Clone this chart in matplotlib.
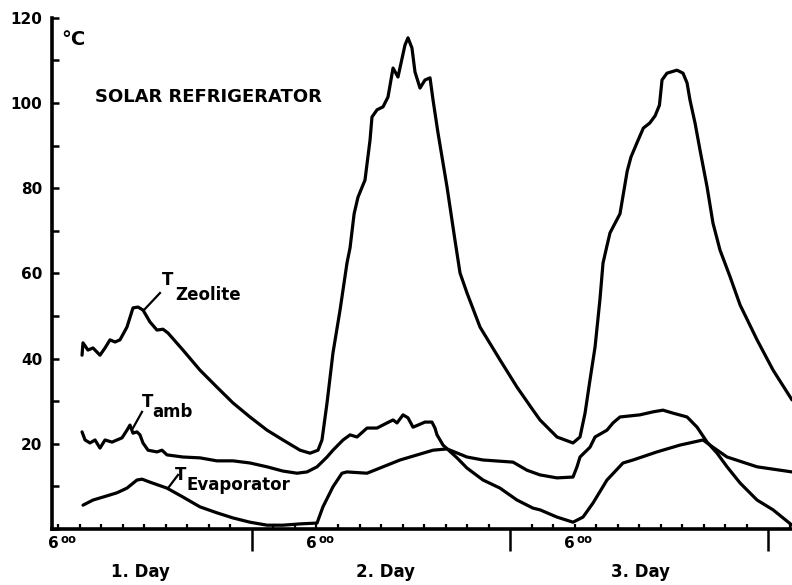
import matplotlib
matplotlib.use("Agg")
import matplotlib.pyplot as plt
from matplotlib.ticker import MultipleLocator, FixedLocator, NullFormatter

# time in hours counted from midnight before day 1, temperature in deg C
zeo_h = [8.19, 8.28, 8.74, 9.21, 9.86, 10.33, 10.79, 11.26, 11.72, 12.37, 12.93, 13.40,
         13.86, 14.51, 15.16, 15.72, 16.19, 17.58, 19.16, 20.74, 22.23, 23.81, 25.40,
         26.88, 28.47, 29.40, 30.14, 30.51, 30.98, 31.53, 32.19, 32.84, 33.12, 33.50,
         33.86, 34.51, 34.98, 35.16, 35.63, 36.19, 36.65, 37.12, 37.58, 38.23, 38.51,
         38.88, 39.16, 39.63, 40.09, 40.56, 40.84, 41.30, 42.14, 42.88, 43.35, 44.00,
         45.21, 47.07, 48.65, 50.14, 50.79, 52.37, 53.86, 54.51, 54.98, 55.44, 55.91,
         56.37, 56.65, 57.02, 57.30, 58.23, 58.90, 59.25, 59.80, 60.40, 61.00, 61.50,
         61.90, 62.14, 62.60, 63.53, 64.09, 64.47, 64.74, 65.21, 65.67, 66.33, 66.88,
         67.53, 68.47, 69.40, 70.98, 72.47, 74.23]
zeo_t = [40.8, 43.7, 42.0, 42.5, 40.8, 42.5, 44.4, 43.9, 44.4, 47.4, 51.9, 52.1,
         51.4, 48.6, 46.7, 46.9, 46.0, 42.0, 37.3, 33.3, 29.6, 26.3, 23.2,
         20.9, 18.5, 17.8, 18.5, 20.9, 29.6, 41.3, 51.4, 62.5, 66.0, 74.0,
         77.9, 81.9, 91.3, 96.7, 98.4, 99.1, 101.4, 108.2, 106.1, 113.6, 115.3,
         112.9, 107.3, 103.5, 105.4, 105.9, 100.7, 93.0, 80.3, 67.8, 60.1, 55.4,
         47.4, 39.7, 33.3, 27.9, 25.6, 21.6, 20.2, 21.6, 27.2, 35.0, 42.7,
         54.0, 62.4, 66.5, 69.5, 74.0, 84.0, 87.3, 90.6, 94.1, 95.3, 97.0,
         99.5, 105.4, 107.0, 107.7, 107.0, 104.7, 100.7, 95.3, 89.0, 80.3, 71.8,
         65.5, 59.2, 52.6, 44.4, 37.3, 30.3]

amb_h = [8.19, 8.47, 8.93, 9.40, 9.86, 10.33, 10.98, 11.44, 11.91, 12.37, 12.65, 12.93,
         13.30, 13.58, 13.86, 14.33, 15.16, 15.63, 16.09, 17.58, 19.16, 20.74, 22.23,
         23.81, 25.40, 26.88, 28.19, 29.12, 30.05, 30.98, 31.53, 32.47, 33.12, 33.77,
         34.70, 35.63, 36.56, 37.12, 37.49, 38.05, 38.51, 38.98, 39.44, 40.09, 40.74,
         41.02, 41.21, 41.77, 43.07, 44.00, 45.49, 47.07, 48.65, 50.14, 50.79, 52.37,
         53.86, 54.79, 55.72, 57.02, 58.51, 59.44, 61.67, 63.81, 65.95, 66.88, 68.19,
         70.98, 74.23]
amb_t = [22.8, 20.9, 20.2, 20.9, 19.0, 20.9, 20.4, 20.9, 21.4, 23.2, 24.4, 22.5,
         22.8, 22.1, 20.2, 18.5, 18.1, 18.5, 17.4, 16.9, 16.7, 16.0, 16.0,
         15.5, 14.6, 13.6, 13.1, 13.4, 14.6, 16.9, 18.5, 20.9, 22.1, 21.6,
         23.7, 23.7, 24.9, 25.6, 24.9, 26.8, 26.1, 23.9, 24.4, 25.1, 25.1,
         23.7, 22.1, 19.7, 16.7, 14.3, 11.5, 9.6, 6.8, 4.9, 4.5, 2.8,
         1.6, 2.8, 6.1, 11.5, 15.5, 16.2, 18.1, 19.7, 20.9, 19.2, 16.9,
         14.6, 13.4]

evap_h = [8.28, 9.21, 10.14, 11.44, 12.37, 13.30, 13.77, 14.51, 16.09, 17.58, 19.16,
          20.74, 22.23, 23.81, 25.40, 26.88, 28.47, 30.05, 30.60, 31.53, 32.37, 32.84,
          34.70, 37.77, 40.84, 42.14, 44.00, 45.49, 48.28, 49.58, 50.79, 52.37, 53.86,
          54.23, 54.51, 55.44, 55.91, 57.02, 57.58, 58.23, 60.09, 61.30, 62.23, 63.16,
          64.47, 65.40, 66.33, 67.26, 68.19, 69.40, 70.98, 72.47, 74.23]
evap_t = [5.6, 6.8, 7.5, 8.5, 9.6, 11.5, 11.7, 11.0, 9.6, 7.5, 5.2,
          3.8, 2.6, 1.6, 0.9, 0.9, 1.2, 1.4, 5.2, 9.9, 13.1, 13.4,
          13.1, 16.2, 18.5, 18.8, 16.9, 16.2, 15.7, 13.8, 12.7, 12.0, 12.2,
          14.6, 16.9, 19.2, 21.6, 23.2, 24.9, 26.3, 26.8, 27.5, 27.9, 27.2,
          26.3, 23.9, 20.4, 17.8, 14.6, 10.8, 6.8, 4.5, 0.9]

y_ticks = [20, 40, 60, 80, 100, 120]
midnights = [24, 48, 72]
six_am = [6, 30, 54]
day_labels = ["1. Day", "2. Day", "3. Day"]
day_pos = [13.6, 36.4, 60.1]

plt.rcParams['font.family'] = ['DejaVu Sans']
plt.rcParams['font.weight'] = 'bold'

fig = plt.figure(figsize=(7.92, 5.85), dpi=100)
ax = fig.add_axes([0.0657, 0.0957, 0.9343, 0.8739])

for h, t in ((zeo_h, zeo_t), (amb_h, amb_t), (evap_h, evap_t)):
    ax.plot(h, t, color='black', lw=2.3, solid_joinstyle='round', solid_capstyle='round')

ax.set_xlim(5.4, 74.23)
ax.set_ylim(0, 120)
ax.spines[['top', 'right']].set_visible(False)
ax.spines[['left', 'bottom']].set_linewidth(2.6)

ax.yaxis.set_major_locator(FixedLocator(y_ticks))
ax.yaxis.set_minor_locator(MultipleLocator(10))
ax.tick_params(axis='y', which='both', direction='in', length=5, width=1.8, pad=7, labelsize=11)

ax.xaxis.set_major_locator(FixedLocator(midnights))
ax.xaxis.set_minor_locator(MultipleLocator(2))
ax.xaxis.set_major_formatter(NullFormatter())
ax.tick_params(axis='x', which='major', direction='out', length=16, width=1.8)
ax.tick_params(axis='x', which='minor', direction='in', length=3.6, width=1.6)

# "6 oo" hour marks below the axis
for h in six_am:
    ax.text(h - 1.0, -4.5, "6", ha='left', va='baseline', fontsize=11, clip_on=False)
    ax.text(h + 0.15, -3.3, "oo", ha='left', va='baseline', fontsize=8.5, clip_on=False)
for pos, lab in zip(day_pos, day_labels):
    ax.text(pos, -11.3, lab, ha='center', va='baseline', fontsize=12, clip_on=False)

ax.text(9.40, 100.2, "SOLAR REFRIGERATOR", fontsize=13, va='baseline')
ax.text(6.23, 113.6, "°C", fontsize=14, va='baseline')

# curve labels with short leader lines
ax.text(15.63, 57.3, "T", fontsize=12, va='baseline')
ax.text(16.84, 53.8, "Zeolite", fontsize=12, va='baseline')
ax.plot([13.95, 15.44], [51.4, 55.4], color='black', lw=1.6)

ax.text(13.77, 28.6, "T", fontsize=12, va='baseline')
ax.text(14.70, 26.3, "amb", fontsize=12, va='baseline')
ax.plot([12.93, 13.77], [23.7, 27.5], color='black', lw=1.6)

ax.text(16.84, 11.5, "T", fontsize=12, va='baseline')
ax.text(17.95, 9.2, "Evaporator", fontsize=12, va='baseline')
ax.plot([16.19, 17.12], [9.6, 12.7], color='black', lw=1.6)

fig.savefig("out.png", dpi=100)
